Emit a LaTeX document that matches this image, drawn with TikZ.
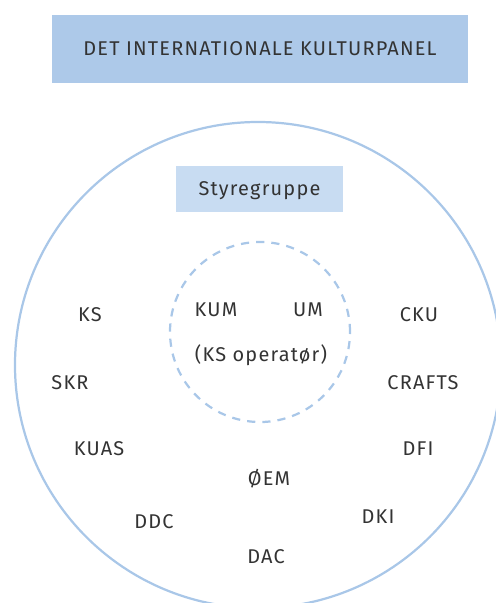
\documentclass[tikz,border=0pt]{standalone}
\usepackage{fontspec}
\setmainfont[LetterSpace=6]{Fira Sans}
\usepackage{xcolor}
\usepackage{tikz}

\definecolor{panelblue}{HTML}{ADC9E9}
\definecolor{groupblue}{HTML}{C8DCF2}
\definecolor{ringblue}{HTML}{A9C7E8}
\definecolor{txtgray}{HTML}{333333}

\begin{document}
\begin{tikzpicture}[
    x=0.03cm, y=-0.03cm,
    titlebox/.style={rectangle, fill=panelblue, minimum width=12.48cm, minimum height=2.04cm, text=txtgray, font=\fontsize{17}{20}\selectfont},
    groupbox/.style={rectangle, fill=groupblue, minimum width=5.01cm, minimum height=1.38cm, text depth=0pt, text=txtgray, font=\fontsize{17}{20}\selectfont},
    ring/.style={circle, draw=ringblue, line width=1.9pt},
    member/.style={text=txtgray, font=\fontsize{17}{20}\selectfont}
]
    \useasboundingbox (0,0) rectangle (496,603);
    \clip (0,0) rectangle (496,603);

    % Panel title
    \node[titlebox] (panel) at (260,49) {DET INTERNATIONALE KULTURPANEL};

    % Outer ring
    \node[ring, minimum size=14.58cm] (outer) at (258,365) {};

    % Steering group
    \node[groupbox] (styre) at (259.5,189) {Styregruppe};
    \node[ring, dash pattern=on 7pt off 6pt, minimum size=5.4cm] (inner) at (260,332) {};
    \node[member] (kum) at (216,310) {KUM};
    \node[member] (um) at (308,310) {UM};
    \node[member] (oper) at (261,355) {(KS operatør)};

    % Members, left side
    \node[member] (ks) at (90,315) {KS};
    \node[member] (skr) at (70,383) {SKR};
    \node[member] (kuas) at (99,449) {KUAS};
    \node[member] (ddc) at (154,522) {DDC};

    % Members, middle
    \node[member] (oem) at (269,479) {ØEM};
    \node[member] (dac) at (266,557) {DAC};

    % Members, right side
    \node[member] (cku) at (419,315) {CKU};
    \node[member] (crafts) at (423,383) {CRAFTS};
    \node[member] (dfi) at (418,449) {DFI};
    \node[member] (dki) at (378,517) {DKI};
\end{tikzpicture}
\end{document}
